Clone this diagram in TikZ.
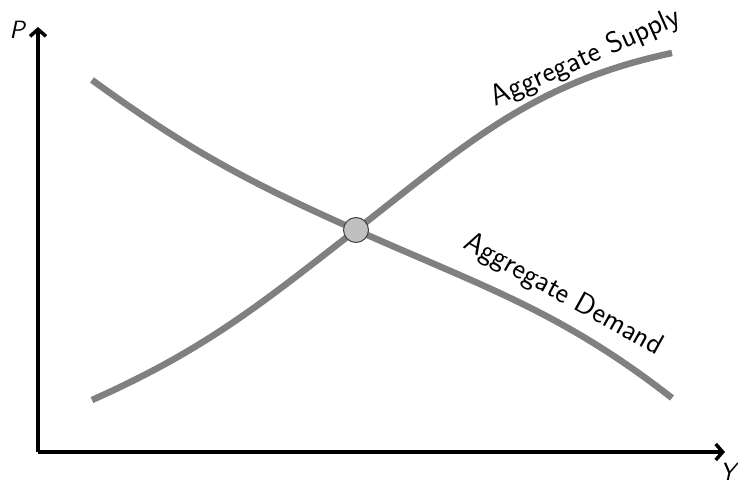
\documentclass[tikz,border=0pt]{standalone}
\definecolor{curvegray}{RGB}{128,128,128}
\definecolor{dotgray}{RGB}{192,192,192}
\usepackage{tikz}
\usetikzlibrary{arrows.meta,positioning,calc}
\tikzset{
    axis/.style={line width=3.5pt, -{Straight Barb[length=7pt,width=16pt]}},
    econcurve/.style={line width=6.5pt, curvegray},
    curvelabel/.style={font=\sffamily\fontsize{29.5}{35}\selectfont, inner sep=0pt},
    axislabel/.style={font=\sffamily\itshape\fontsize{25}{30}\selectfont, inner sep=0pt}
}

\begin{document}
\begin{tikzpicture}[x=1pt,y=1pt]
            \useasboundingbox (0,0) rectangle (738,485);
            % axes
            \coordinate (origin) at (38,33);
            \coordinate (ptop) at (38,458);
            \coordinate (yend) at (725,33);
            \draw[axis] (origin) -- (ptop);
            \draw[axis] (origin) -- (yend);
            \node[axislabel] (plabel) at (17,455) {P};
            \node[axislabel] (ylabel) at (728,13) {Y};

            % curves
            \coordinate (eq) at (356,255);
            \coordinate (as0) at (92,85);
            \coordinate (as1) at (672,432);
            \coordinate (ad0) at (92,405);
            \coordinate (ad1) at (672,87);
            \draw[econcurve] (as0) to[out=24,in=218] (eq) to[out=38,in=192] (as1);
            \draw[econcurve] (ad0) to[out=-36,in=156] (eq) to[out=-24,in=142] (ad1);
            \node[circle, draw=black!75, line width=1pt, fill=dotgray, minimum size=25pt, inner sep=0pt] (eqdot) at (eq) {};

            \node[curvelabel, rotate=24] (aslabel) at (586,427) {Aggregate Supply};
            \node[curvelabel, rotate=-29] (adlabel) at (563,190) {Aggregate Demand};
        \end{tikzpicture}
\end{document}
